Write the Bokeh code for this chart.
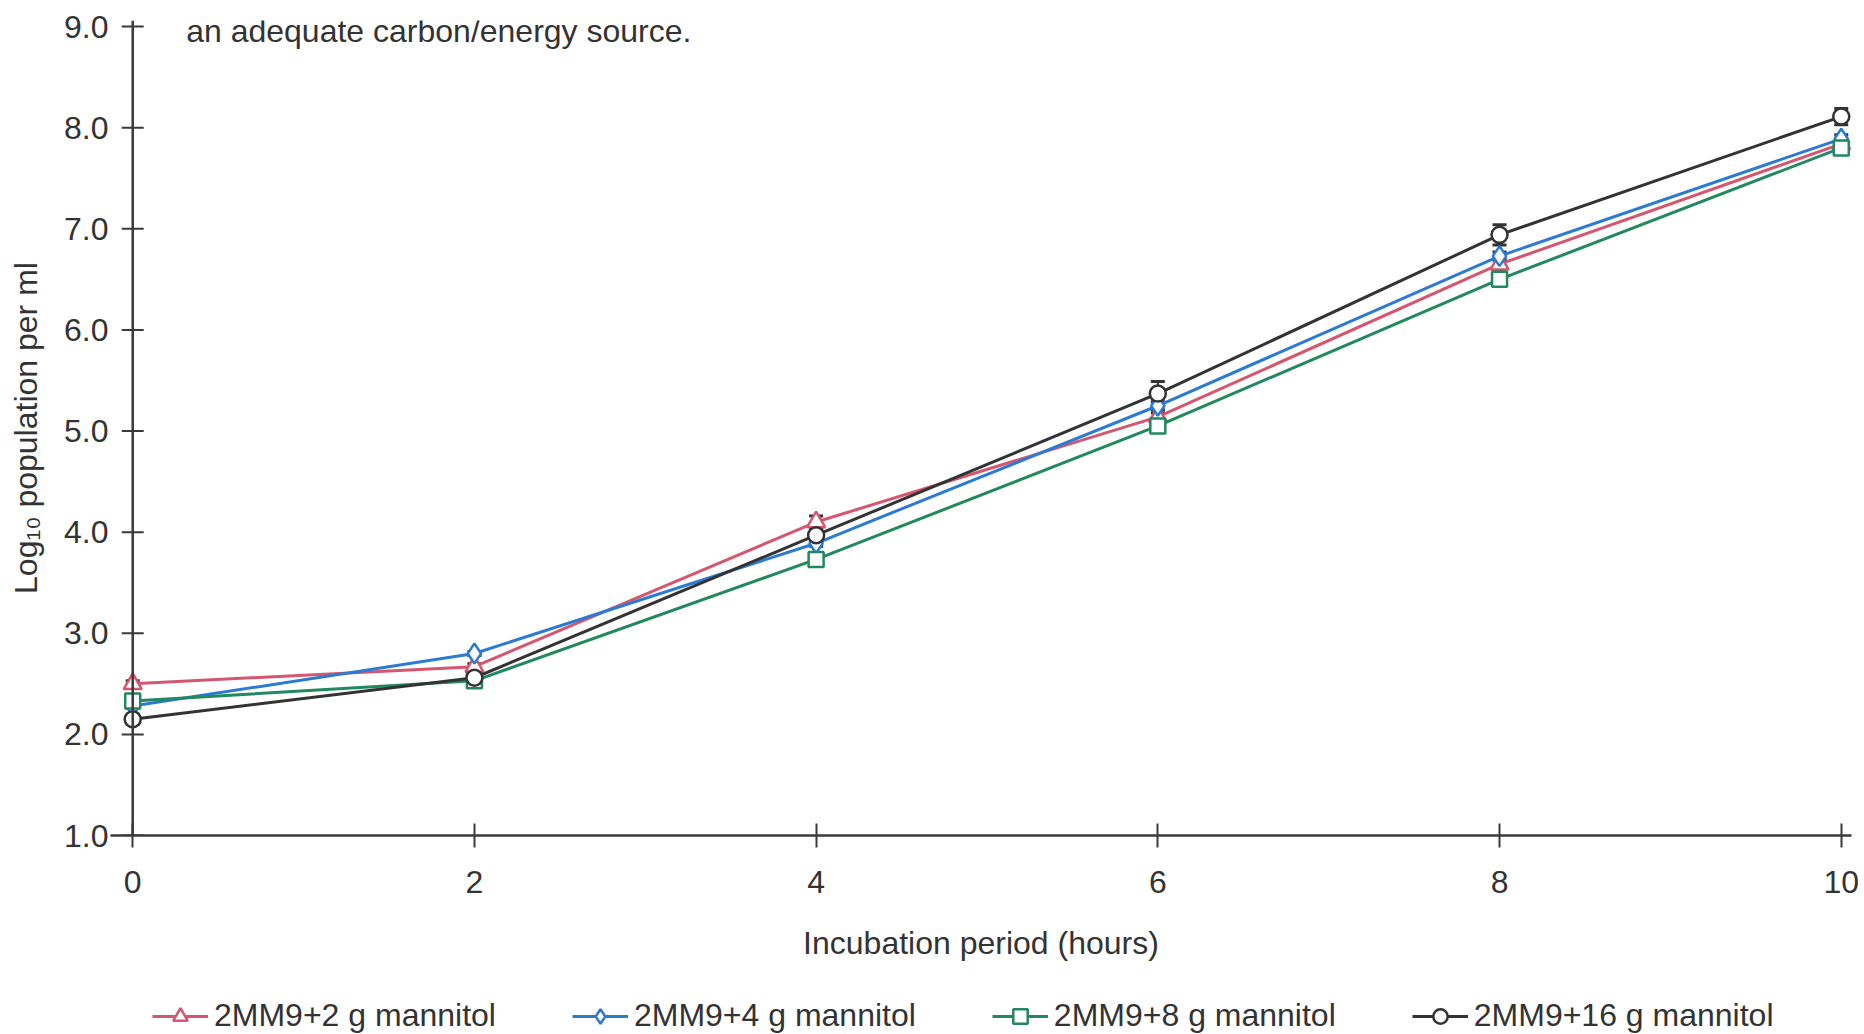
from bokeh.plotting import figure
from bokeh.layouts import column
from bokeh.models import (Range1d, FixedTicker, NumeralTickFormatter, Legend, LegendItem,
                          Whisker, ColumnDataSource, Label, TeeHead, Span)
from bokeh.embed import file_html
from bokeh.resources import INLINE

# ---------------- data ----------------
hours = [0, 2, 4, 6, 8, 10]
series_names = ["2MM9+2 g mannitol", "2MM9+4 g mannitol",
                "2MM9+8 g mannitol", "2MM9+16 g mannitol"]
log_pop_2g = [2.50, 2.67, 4.10, 5.14, 6.65, 7.84]
log_pop_4g = [2.28, 2.80, 3.89, 5.25, 6.73, 7.89]
log_pop_8g = [2.33, 2.53, 3.73, 5.05, 6.50, 7.80]
log_pop_16g = [2.15, 2.56, 3.97, 5.37, 6.94, 8.11]
err_2g = [0.03, 0.03, 0.06, 0.04, 0.05, 0.03]
err_4g = [0.02, 0.02, 0.03, 0.04, 0.04, 0.04]
err_8g = [0.03, 0.02, 0.03, 0.06, 0.06, 0.05]
err_16g = [0.05, 0.03, 0.05, 0.12, 0.10, 0.08]
y_ticks = [1, 2, 3, 4, 5, 6, 7, 8, 9]
x_ticks = [0, 2, 4, 6, 8, 10]
note_text = "an adequate carbon/energy source."
x_title = "Incubation period (hours)"
y_title = "Log\u2081\u2080 population per ml"

FONT = "Liberation Sans"
TXT = "#333333"
AX = "#3a3a3a"
FS = "32px"

colors = ["#d4566f", "#2b7bd2", "#22885f", "#333333"]
markers = ["triangle", "diamond", "square", "circle"]
msizes = [18, 20, 15, 16]
values = [log_pop_2g, log_pop_4g, log_pop_8g, log_pop_16g]
errors = [err_2g, err_4g, err_8g, err_16g]

p = figure(width=1864, height=975,
           x_range=Range1d(-0.13, 10.06), y_range=Range1d(1.0, 9.06),
           output_backend="svg", toolbar_location=None,
           min_border_left=110, min_border_right=13, min_border_top=20,
           min_border_bottom=140)
p.grid.visible = False
p.outline_line_color = None
p.background_fill_color = "white"

# axes
for ax in (p.xaxis, p.yaxis):
    ax.axis_line_color = AX
    ax.axis_line_width = 2.5
    ax.major_tick_line_color = AX
    ax.major_tick_line_width = 2
    ax.minor_tick_line_color = None
    ax.major_label_text_font = FONT
    ax.major_label_text_font_size = FS
    ax.major_label_text_color = TXT
    ax.axis_label_text_font = FONT
    ax.axis_label_text_font_size = FS
    ax.axis_label_text_font_style = "normal"
    ax.axis_label_text_color = TXT

p.xaxis.ticker = FixedTicker(ticks=x_ticks)
p.xaxis.major_tick_in = 12
p.xaxis.major_tick_out = 12
p.xaxis.major_label_standoff = 23
p.xaxis.axis_label = x_title
p.xaxis.axis_label_standoff = 29

# left axis: labels only (its line is drawn at x = 0 below)
p.yaxis.ticker = FixedTicker(ticks=y_ticks)
p.yaxis.formatter = NumeralTickFormatter(format="0.0")
p.yaxis.axis_line_color = None
p.yaxis.major_tick_line_color = None
p.yaxis.major_tick_in = 0
p.yaxis.major_tick_out = 0
p.yaxis.major_label_standoff = 2
p.yaxis.axis_label = y_title
p.yaxis.axis_label_standoff = 17

# y axis line and crossing ticks at x = 0
p.add_layout(Span(location=0, dimension="height", line_color=AX, line_width=2.5))
p.scatter(x=[0] * len(y_ticks), y=y_ticks, marker="dash", size=22,
          line_color=AX, line_width=2)

# legend strip (separate small figure under the chart; its ranges show no data)
lg = figure(width=1864, height=59, x_range=Range1d(20, 21), y_range=Range1d(20, 21),
            output_backend="svg", toolbar_location=None,
            min_border=0, min_border_left=0, min_border_right=0,
            min_border_top=0, min_border_bottom=0)
lg.axis.visible = False
lg.grid.visible = False
lg.outline_line_color = None

items = []
for name, vals, errs, col, mk, ms in zip(series_names, values, errors, colors, markers, msizes):
    src = ColumnDataSource(dict(x=hours, y=vals,
                                upper=[v + e for v, e in zip(vals, errs)],
                                lower=[v - e for v, e in zip(vals, errs)]))
    w = Whisker(source=src, base="x", upper="upper", lower="lower",
                line_color="#333333", line_width=2,
                upper_head=TeeHead(size=14, line_color="#333333", line_width=3),
                lower_head=TeeHead(size=14, line_color="#333333", line_width=3))
    p.add_layout(w)
    p.line("x", "y", source=src, line_color=col, line_width=3)
    p.scatter("x", "y", source=src, marker=mk, size=ms,
              fill_color="white", line_color=col, line_width=2.5)
    # legend proxies carrying the same styles (outside the strip's visible range)
    lr = lg.line("x", "y", source=src, line_color=col, line_width=3)
    sr = lg.scatter("x", "y", source=src, marker=mk, size=ms,
                    fill_color="white", line_color=col, line_width=2.5)
    items.append(LegendItem(label=name, renderers=[lr, sr]))

legend = Legend(items=items, orientation="horizontal", location=(42, 0),
                label_text_font=FONT, label_text_font_size=FS, label_text_color=TXT,
                glyph_width=56, glyph_height=36, spacing=76, label_standoff=6,
                border_line_color=None, background_fill_alpha=0,
                padding=0, margin=0)
lg.add_layout(legend)

p.add_layout(Label(x=0.313, y=8.96, text=note_text, text_baseline="middle",
                   text_font=FONT, text_font_size=FS, text_color=TXT))

open("out.html", "w").write(file_html(column(p, lg, spacing=0), INLINE))
